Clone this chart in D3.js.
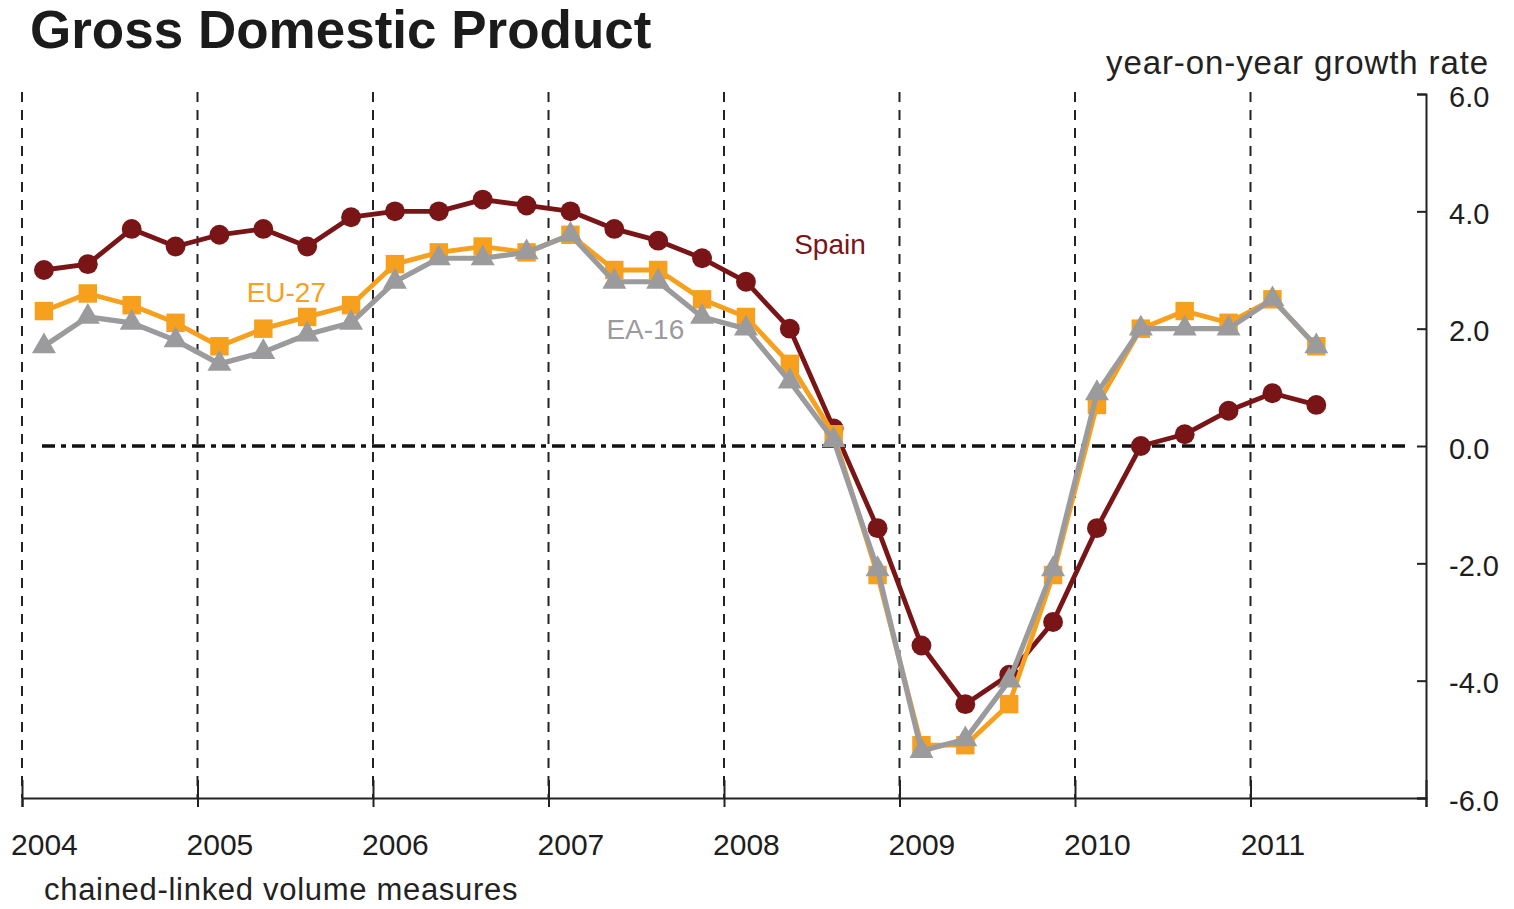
<!DOCTYPE html>
<html><head><meta charset="utf-8">
<script src="https://cdn.jsdelivr.net/npm/d3@7"></script>
<style>
body{margin:0;background:#fff}
svg{display:block}
text{font-family:"Liberation Sans",Arial,Helvetica,sans-serif}
</style>
</head><body>
<svg id="chart" width="1514" height="909"></svg>
<script>
const quarters = ["2004Q1","2004Q2","2004Q3","2004Q4","2005Q1","2005Q2","2005Q3","2005Q4",
  "2006Q1","2006Q2","2006Q3","2006Q4","2007Q1","2007Q2","2007Q3","2007Q4",
  "2008Q1","2008Q2","2008Q3","2008Q4","2009Q1","2009Q2","2009Q3","2009Q4",
  "2010Q1","2010Q2","2010Q3","2010Q4","2011Q1","2011Q2"];
const spain = [3.0,3.1,3.7,3.4,3.6,3.7,3.4,3.9,4.0,4.0,4.2,4.1,4.0,3.7,3.5,3.2,
  2.8,2.0,0.3,-1.4,-3.4,-4.4,-3.9,-3.0,-1.4,0.0,0.2,0.6,0.9,0.7];
const eu27 = [2.3,2.6,2.4,2.1,1.7,2.0,2.2,2.4,3.1,3.3,3.4,3.3,3.6,3.0,3.0,2.5,
  2.2,1.4,0.2,-2.2,-5.1,-5.1,-4.4,-2.2,0.7,2.0,2.3,2.1,2.5,1.7];
const ea16 = [1.7,2.2,2.1,1.8,1.4,1.6,1.9,2.1,2.8,3.2,3.2,3.3,3.6,2.8,2.8,2.2,
  2.0,1.1,0.1,-2.1,-5.2,-5.0,-4.0,-2.1,0.9,2.0,2.0,2.0,2.5,1.7];
const yearTicks = [2004,2005,2006,2007,2008,2009,2010,2011];
const valueTicks = [6,4,2,0,-2,-4,-6];
const seriesNames = ["Spain","EU-27","EA-16"];
const labelAnchors = [ {name:"Spain", t:2008.4, v:3.27},
                       {name:"EU-27", t:2005.28, v:2.45},
                       {name:"EA-16", t:2007.33, v:1.82} ];

const colors = {"Spain":"#7a1517","EU-27":"#f6a01e","EA-16":"#9b9b9e"};
const series = [
  {name:"Spain", values:spain, shape:d3.symbolCircle, size:310, width:4.8},
  {name:"EU-27", values:eu27, shape:d3.symbolSquare, size:340, width:4.8},
  {name:"EA-16", values:ea16, shape:d3.symbolTriangle, size:250, width:5.2}
];

const qTime = q => +q.slice(0,4) + (+q.slice(5) - 0.5)/4;

const svg = d3.select("#chart");
const x = d3.scaleLinear().domain([2004,2012]).range([22,1426]);
const y = d3.scaleLinear().domain([-6,6]).range([798,94]);

// title & notes
svg.append("text").attr("x",30).attr("y",48).attr("font-size",53).attr("font-weight","bold")
  .attr("fill","#1b1b1b").text("Gross Domestic Product");
svg.append("text").attr("x",1489).attr("y",74).attr("text-anchor","end").attr("font-size",33)
  .attr("letter-spacing",0.9).attr("fill","#222").text("year-on-year growth rate");
svg.append("text").attr("x",44).attr("y",900).attr("font-size",31)
  .attr("letter-spacing",0.7).attr("fill","#222").text("chained-linked volume measures");

// vertical dashed year lines
svg.append("g").selectAll("line").data(yearTicks).join("line")
  .attr("x1",d=>x(d)).attr("x2",d=>x(d)).attr("y1",92).attr("y2",y(-6))
  .attr("stroke","#222").attr("stroke-width",2).attr("stroke-dasharray","10,8");

// zero line
svg.append("line").attr("x1",42).attr("x2",1410).attr("y1",y(0)).attr("y2",y(0))
  .attr("stroke","#111").attr("stroke-width",3.4).attr("stroke-dasharray","13,6,5,6");

// x axis
const xAxis = svg.append("g").attr("transform",`translate(0,${y(-6)})`)
  .call(d3.axisBottom(x).tickValues(yearTicks.concat([2012])).tickSizeOuter(0).tickSize(9).tickFormat(d=>d<2012?String(d):""));
xAxis.select(".domain").attr("stroke","#222").attr("stroke-width",2);
xAxis.selectAll(".tick line").attr("y1",-18).attr("y2",9).attr("stroke","#222").attr("stroke-width",2);
xAxis.selectAll(".tick text").attr("x",x(2004.125)-x(2004)).attr("y",0).attr("dy",57)
  .attr("font-size",30).attr("fill","#1e1e1e").attr("font-family","Liberation Sans, Arial, sans-serif");

// y axis on right
const yAxis = svg.append("g").attr("transform",`translate(${x(2012)},0)`)
  .call(d3.axisLeft(y).tickValues(valueTicks).tickSizeOuter(0).tickSize(9).tickFormat(d=>d.toFixed(1)));
yAxis.select(".domain").attr("stroke","#222").attr("stroke-width",2);
yAxis.selectAll(".tick line").attr("stroke","#222").attr("stroke-width",2);
yAxis.selectAll(".tick text").attr("x",23).attr("dy","0.42em").attr("text-anchor","start")
  .attr("font-size",29).attr("fill","#1e1e1e").attr("font-family","Liberation Sans, Arial, sans-serif");

// series
const line = d3.line().x(d=>x(qTime(d.q))).y(d=>y(d.v));
series.forEach(s=>{
  const pts = quarters.map((q,i)=>({q, v:s.values[i]}));
  const g = svg.append("g");
  g.append("path").datum(pts).attr("d",line).attr("fill","none")
    .attr("stroke",colors[s.name]).attr("stroke-width",s.width).attr("stroke-linejoin","round");
  g.selectAll("path.m").data(pts).join("path").attr("class","m")
    .attr("transform",d=>`translate(${x(qTime(d.q))},${y(d.v)})`)
    .attr("d",d3.symbol().type(s.shape).size(s.size)).attr("fill",colors[s.name]);
});

// inline labels
svg.append("g").selectAll("text").data(labelAnchors).join("text")
  .attr("x",d=>x(d.t)).attr("y",d=>y(d.v)).attr("font-size",28)
  .attr("fill",d=>colors[d.name]).text(d=>d.name);
</script>
</body></html>
